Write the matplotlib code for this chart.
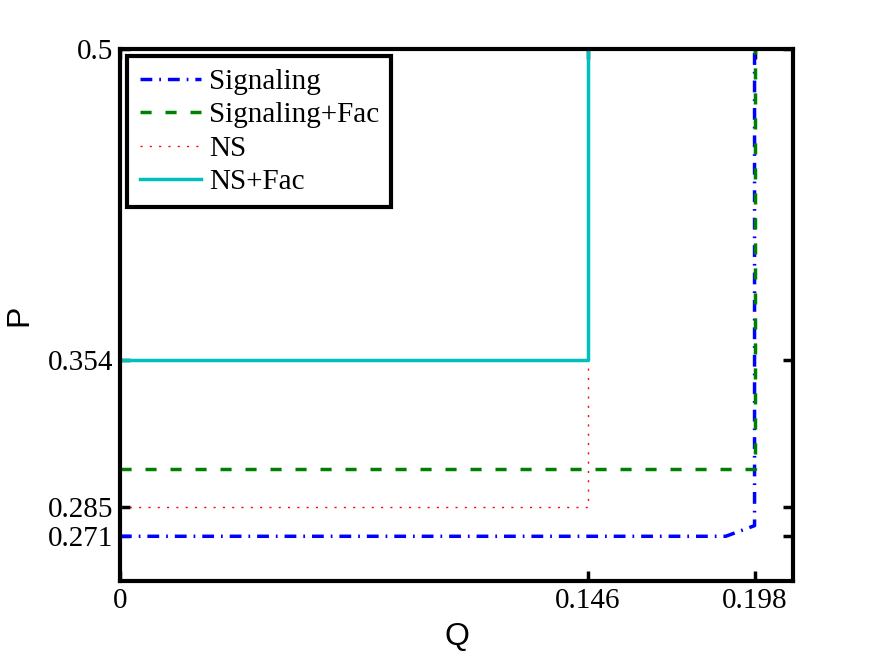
import numpy as np
import matplotlib
matplotlib.use('Agg')
import matplotlib.pyplot as plt

# curve data (Q, P)
sig_q = [0.0, 0.189, 0.198, 0.198]
sig_p = [0.271, 0.271, 0.276, 0.5]
sigfac_q = [0.0, 0.198, 0.198]
sigfac_p = [0.3025, 0.3025, 0.5]
ns_q = [0.0, 0.146, 0.146]
ns_p = [0.285, 0.285, 0.354]
nsfac_q = [0.0, 0.146, 0.146]
nsfac_p = [0.354, 0.354, 0.5]

xticks = [0, 0.146, 0.198]
xticklabels = ['0', '0.146', '0.198']
yticks = [0.271, 0.285, 0.354, 0.5]
yticklabels = ['0.271', '0.285', '0.354', '0.5']
labels = ['Signaling', 'Signaling+Fac', 'NS', 'NS+Fac']

fig = plt.figure(figsize=(8.75, 6.59), dpi=100)
ax = fig.add_axes([0.1371, 0.1184, 0.7692, 0.8072])

lw = 2.5
ax.plot(sig_q, sig_p, color='#0000ff', linestyle='-.', linewidth=lw, dashes=(3.4, 2, 0.5, 2))
ax.plot(sigfac_q, sigfac_p, color='#008000', linestyle='--', linewidth=lw, dashes=(3.2, 4))
ax.plot(ns_q, ns_p, color='#ff0000', linestyle=':', linewidth=1.0, dashes=(1.5, 5.2))
ax.plot(nsfac_q, nsfac_p, color='#00bfbf', linestyle='-', linewidth=lw)

ax.set_xlim(0, 0.21)
ax.set_ylim(0.25, 0.5)
ax.set_xticks(xticks)
ax.set_xticklabels(xticklabels)
ax.set_yticks(yticks)
ax.set_yticklabels(yticklabels)

tfont = {'family': 'Liberation Serif', 'size': 21}
for t in ax.get_xticklabels() + ax.get_yticklabels():
    t.set_fontfamily('Liberation Serif')
    t.set_fontsize(21)
ax.tick_params(direction='in', length=7, width=2.5, top=True, right=True, pad=5)
plt.setp(ax.spines.values(), linewidth=3)

ax.set_xlabel('Q', fontfamily='Liberation Sans', fontsize=23, va='center')
ax.set_ylabel('P', fontfamily='Liberation Sans', fontsize=23, va='center')
ax.xaxis.set_label_coords(0.5, -0.105)
ax.yaxis.set_label_coords(-0.150, 0.5)

leg = ax.legend(labels, loc='upper left', prop=tfont, frameon=True, fancybox=False,
                borderaxespad=0.25, handlelength=2.1, handletextpad=0.28,
                labelspacing=0.24, borderpad=0.42, framealpha=1)
leg.get_frame().set_edgecolor('black')
leg.get_frame().set_linewidth(3)

fig.savefig('out.png', dpi=100)
